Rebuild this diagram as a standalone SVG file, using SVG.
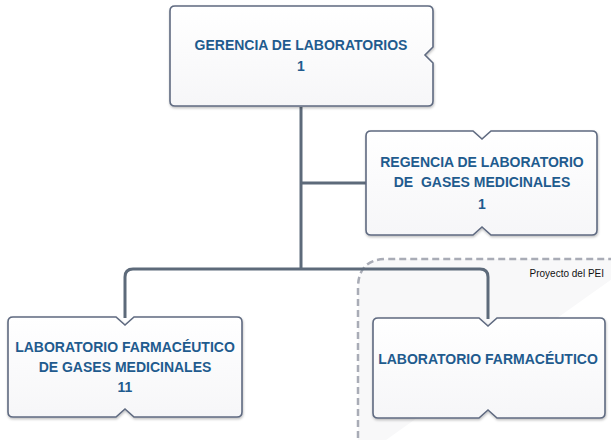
<svg xmlns="http://www.w3.org/2000/svg" width="611" height="440" viewBox="0 0 611 440">
<style>
.box{fill:url(#bg);stroke:#5f6a80;stroke-width:1.6;filter:url(#sh)}
.t{font-family:"Liberation Sans",Arial,sans-serif;font-weight:bold;font-size:14px;fill:#1f5b8e;text-anchor:middle}
.con{fill:none;stroke:#5d6a7a;stroke-width:3}
</style>
<defs>
<linearGradient id="bg" x1="0" y1="0" x2="0" y2="1">
<stop offset="0" stop-color="#ffffff"/>
<stop offset="1" stop-color="#f6f6f8"/>
</linearGradient>
<filter id="sh" x="-10%" y="-10%" width="120%" height="130%">
<feDropShadow dx="0.5" dy="1.5" stdDeviation="1.2" flood-color="#000" flood-opacity="0.25"/>
</filter>
</defs>
<rect width="611" height="440" fill="#ffffff"/>
<g id="proyecto-pei">
<path d="M358,460 V288 Q358,259 387,259 H640" fill="#f8f8f9" stroke="#a9acb6" stroke-width="2.5" stroke-dasharray="7 4"/>
<text x="604" y="277" font-family="Liberation Sans,Arial,sans-serif" font-size="10px" fill="#111" text-anchor="end">Proyecto del PEI</text>
</g>
<g id="connectors">
<path class="con" d="M301,107 V269"/>
<path class="con" d="M301,183 H366"/>
<path class="con" d="M125,318 V277 Q125,269 133,269 H480 Q488,269 488,277 V319"/>
</g>
<g id="gerencia">
<path class="box" d="M175,6 H428 Q433,6 433,11 V47 L425,55 L433,63 V101 Q433,106 428,106 H175 Q170,106 170,101 V11 Q170,6 175,6 Z"/>
<text class="t" x="301" y="50">GERENCIA DE LABORATORIOS</text>
<text class="t" x="301" y="71">1</text>
</g>
<g id="regencia">
<path class="box" d="M371,131 H473 L482,139 L491,131 H592 Q597,131 597,136 V230 Q597,235 592,235 H491 L482,227 L473,235 H371 Q366,235 366,230 V136 Q366,131 371,131 Z"/>
<text class="t" x="482" y="167">REGENCIA DE LABORATORIO</text>
<text class="t" x="482" y="187" xml:space="preserve">DE  GASES MEDICINALES</text>
<text class="t" x="482" y="209">1</text>
</g>
<g id="lab-gases">
<path class="box" d="M13,317 H116 L125,325 L134,317 H237 Q242,317 242,322 V412 Q242,417 237,417 H134 L125,409 L116,417 H13 Q8,417 8,412 V322 Q8,317 13,317 Z"/>
<text class="t" x="125" y="352">LABORATORIO FARMACÉUTICO</text>
<text class="t" x="125" y="372">DE GASES MEDICINALES</text>
<text class="t" x="125" y="392">11</text>
</g>
<g id="lab-farmaceutico">
<path class="box" d="M378,318 H479 L488,326 L497,318 H600 Q605,318 605,323 V413 Q605,418 600,418 H497 L488,410 L479,418 H378 Q373,418 373,413 V323 Q373,318 378,318 Z"/>
<text class="t" x="488" y="364">LABORATORIO FARMACÉUTICO</text>
</g>
</svg>
